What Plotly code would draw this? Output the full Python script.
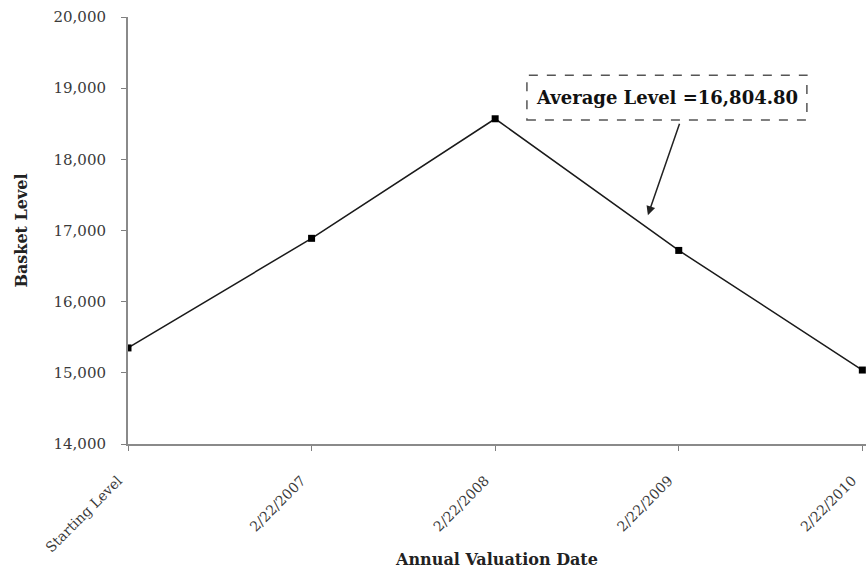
import plotly.graph_objects as go

categories = ["Starting Level", "2/22/2007", "2/22/2008", "2/22/2009", "2/22/2010"]
basket_levels = [15350, 16890, 18570, 16720, 15039.2]
y_ticks = [14000, 15000, 16000, 17000, 18000, 19000, 20000]
y_tick_text = ["14,000", "15,000", "16,000", "17,000", "18,000", "19,000", "20,000"]
average_label = "Average Level =16,804.80"

x_idx = list(range(len(categories)))

fig = go.Figure()
fig.add_trace(go.Scatter(
    x=x_idx, y=basket_levels, mode="lines+markers",
    line=dict(color="#1a1a1a", width=1.5),
    marker=dict(symbol="square", size=7, color="#000000"),
    cliponaxis=True, showlegend=False, hoverinfo="skip",
))

serif = "DejaVu Serif"

fig.update_layout(
    width=866, height=569,
    margin=dict(l=128, r=0, t=17, b=125),
    paper_bgcolor="white", plot_bgcolor="white",
    font=dict(family=serif, color="#3a3a3a"),
    xaxis=dict(
        range=[0, 4.02], tickmode="array", tickvals=x_idx, ticktext=categories,
        tickangle=-45, ticks="outside", ticklen=5, tickcolor="#7f7f7f",
        showline=True, linecolor="#8a8a8a", linewidth=2, showgrid=False, zeroline=False,
        tickfont=dict(family=serif, size=14, color="#3a3a3a"), automargin=False,
        ticklabeloverflow="allow", ticklabelstandoff=16, ticklabelshift=-10,
        title=dict(text="<b>Annual Valuation Date</b>", font=dict(family=serif, size=16, color="#222"), standoff=2),
    ),
    yaxis=dict(
        range=[14000, 20000], tickmode="array", tickvals=y_ticks, ticktext=y_tick_text,
        ticks="outside", ticklen=5, tickcolor="#7f7f7f",
        showline=True, linecolor="#8a8a8a", linewidth=2, showgrid=False, zeroline=False,
        tickfont=dict(family=serif, size=15, color="#3a3a3a"), automargin=False,
        ticklabelstandoff=12,
        title=dict(text="<b>Basket Level</b>", font=dict(family=serif, size=16, color="#222"), standoff=22),
    ),
)

# Dashed box around the average label
fig.add_shape(type="rect", xref="x", yref="y",
              x0=2.173, x1=3.698, y0=18551, y1=19183,
              line=dict(color="#555", width=1.5, dash="dash"), fillcolor="white", layer="above")
fig.add_annotation(x=2.936, y=18867, xref="x", yref="y", text="<b>" + average_label + "</b>",
                   showarrow=False, font=dict(family=serif, size=18, color="#111"))
# Arrow pointing to the line
fig.add_annotation(x=2.832, y=17216, ax=3.007, ay=18520, xref="x", yref="y", axref="x", ayref="y",
                   text="", showarrow=True, arrowhead=2, arrowsize=1.2, arrowwidth=1.5, arrowcolor="#222")

fig.write_html("out.html", config={"displayModeBar": False},
               post_script="document.body.style.margin='0px';document.body.style.overflow='hidden';")
